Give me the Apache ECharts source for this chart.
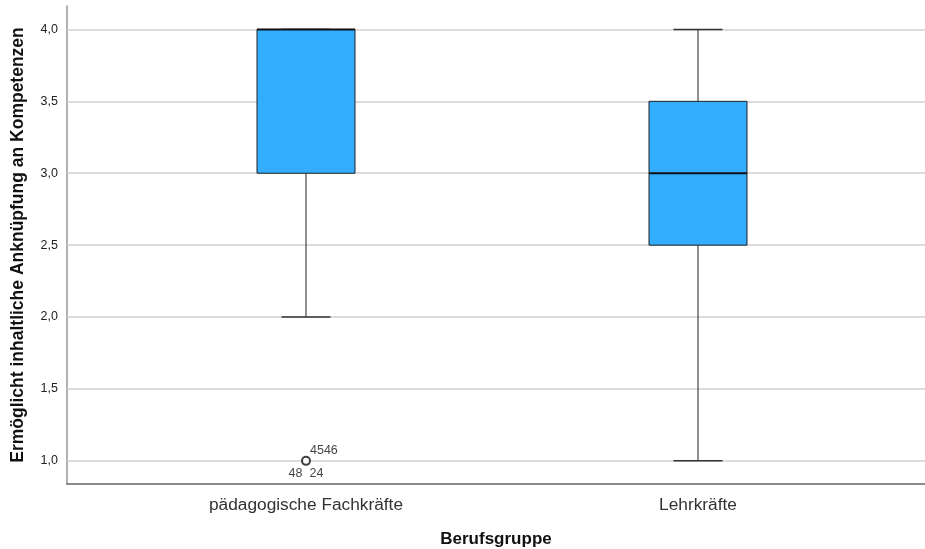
<!DOCTYPE html>
<html>
<head>
<meta charset="utf-8">
<script src="https://cdn.jsdelivr.net/npm/echarts@6/dist/echarts.min.js"></script>
<style>
  html, body { margin: 0; padding: 0; background: #fff; }
  #main { width: 925px; height: 549px; }
</style>
</head>
<body>
<div id="main"></div>
<script>
// Berufsgruppen und Boxplot-Kennwerte
var categories = ['pädagogische Fachkräfte', 'Lehrkräfte'];
var whiskerLow = [2.0, 1.0];
var q1 = [3.0, 2.5];
var median = [4.0, 3.0];
var q3 = [4.0, 3.5];
var whiskerHigh = [4.0, 4.0];

// Ausreißer (Kategorie-Index, Wert) und Fallnummern
var outlierCat = [0];
var outlierValue = [1.0];
var outlierIdsAbove = ['4546'];
var outlierIdsBelow = ['48  24'];

var yTicks = [1.0, 1.5, 2.0, 2.5, 3.0, 3.5, 4.0];

var yMin = 0.839, yMax = 4.163;

var myChart = echarts.init(document.getElementById('main'));

var boxData = [];
for (let i = 0; i < categories.length; i++) {
  boxData.push([i, whiskerLow[i], q1[i], median[i], q3[i], whiskerHigh[i]]);
}

var outlierData = [];
var outlierLabelData = [];
for (let i = 0; i < outlierCat.length; i++) {
  outlierData.push({ value: [outlierCat[i], outlierValue[i]], label: { formatter: outlierIdsAbove[i] } });
  outlierLabelData.push({ value: [outlierCat[i], outlierValue[i]], label: { formatter: outlierIdsBelow[i] } });
}

var gridLines = yTicks.map(function (v) { return { yAxis: v }; });

function renderBox(params, api) {
  var x = api.value(0);
  var pLo = api.coord([x, api.value(1)]);
  var pQ1 = api.coord([x, api.value(2)]);
  var pMed = api.coord([x, api.value(3)]);
  var pQ3 = api.coord([x, api.value(4)]);
  var pHi = api.coord([x, api.value(5)]);
  var band = api.size([1, 0])[0];
  var w = band * 0.25;
  var cap = w / 2;
  var cx = pMed[0];
  var lineStyle = { stroke: '#222', lineWidth: 1 };
  return {
    type: 'group',
    children: [
      { type: 'line', shape: { x1: cx, y1: pLo[1], x2: cx, y2: pQ1[1] }, style: lineStyle },
      { type: 'line', shape: { x1: cx, y1: pQ3[1], x2: cx, y2: pHi[1] }, style: lineStyle },
      { type: 'line', shape: { x1: cx - cap / 2, y1: pLo[1], x2: cx + cap / 2, y2: pLo[1] }, style: { stroke: '#333', lineWidth: 1.5 } },
      { type: 'line', shape: { x1: cx - cap / 2, y1: pHi[1], x2: cx + cap / 2, y2: pHi[1] }, style: { stroke: '#333', lineWidth: 1.5 } },
      { type: 'rect', shape: { x: cx - w / 2, y: pQ3[1], width: w, height: pQ1[1] - pQ3[1] },
        style: { fill: '#33adff', stroke: '#222', lineWidth: 1 } },
      { type: 'line', shape: { x1: cx - w / 2, y1: pMed[1], x2: cx + w / 2, y2: pMed[1] }, style: { stroke: '#111', lineWidth: 2 } }
    ]
  };
}

var option = {
  animation: false,
  backgroundColor: '#fff',
  textStyle: { fontFamily: 'Liberation Sans, Arial, sans-serif' },
  grid: [
    { left: 67, right: 0, top: 6, bottom: 65, outerBoundsMode: 'none', containLabel: false },
    { left: 110, right: 31, top: 6, bottom: 65, outerBoundsMode: 'none', containLabel: false }
  ],
  xAxis: [
    {
      gridIndex: 0,
      type: 'value',
      min: 0, max: 1,
      name: 'Berufsgruppe',
      nameLocation: 'middle',
      nameGap: 47,
      nameTextStyle: { fontSize: 17, fontWeight: 'bold', color: '#111' },
      axisLine: { show: true, lineStyle: { color: '#666', width: 1.5 } },
      axisTick: { show: false },
      axisLabel: { show: false },
      splitLine: { show: false }
    },
    {
      gridIndex: 1,
      type: 'category',
      data: categories,
      axisLine: { show: false },
      axisTick: { show: false },
      axisLabel: { fontSize: 17.3, color: '#333', margin: 13 },
      splitLine: { show: false }
    }
  ],
  yAxis: [
    {
      gridIndex: 0,
      type: 'value',
      min: yMin, max: yMax,
      name: 'Ermöglicht inhaltliche Anknüpfung an Kompetenzen',
      nameLocation: 'middle',
      nameGap: 40,
      nameTextStyle: { fontSize: 17.5, fontWeight: 'bold', color: '#111' },
      axisLine: { show: true, lineStyle: { color: '#999', width: 1.5 } },
      axisTick: { show: false },
      axisLabel: {
        fontSize: 12.5, color: '#222', margin: 9,
        customValues: yTicks,
        formatter: function (v) { return v.toFixed(1).replace('.', ','); }
      },
      splitLine: { show: false }
    },
    {
      gridIndex: 1,
      type: 'value',
      min: yMin, max: yMax,
      show: false,
      splitLine: { show: false }
    }
  ],
  series: [
    {
      type: 'line',
      xAxisIndex: 0,
      yAxisIndex: 0,
      data: [],
      z: 1,
      markLine: {
        silent: true,
        symbol: 'none',
        label: { show: false },
        lineStyle: { color: '#d0d0d0', width: 1.5, type: 'solid' },
        data: gridLines
      }
    },
    {
      type: 'custom',
      xAxisIndex: 1,
      yAxisIndex: 1,
      renderItem: renderBox,
      encode: { x: 0, y: [1, 2, 3, 4, 5] },
      data: boxData,
      z: 5
    },
    {
      type: 'scatter',
      xAxisIndex: 1,
      yAxisIndex: 1,
      symbol: 'circle',
      symbolSize: 8,
      itemStyle: { color: '#fff', borderColor: '#111', borderWidth: 2 },
      label: { show: true, position: 'right', offset: [-6, -10], fontSize: 12.5, color: '#111' },
      data: outlierData,
      z: 6
    },
    {
      type: 'scatter',
      xAxisIndex: 1,
      yAxisIndex: 1,
      symbol: 'circle',
      symbolSize: 1,
      itemStyle: { color: 'rgba(0,0,0,0)' },
      label: { show: true, position: 'bottom', offset: [0, 1], fontSize: 12.5, color: '#111' },
      data: outlierLabelData,
      z: 6
    }
  ]
};

myChart.setOption(option);
</script>
</body>
</html>
